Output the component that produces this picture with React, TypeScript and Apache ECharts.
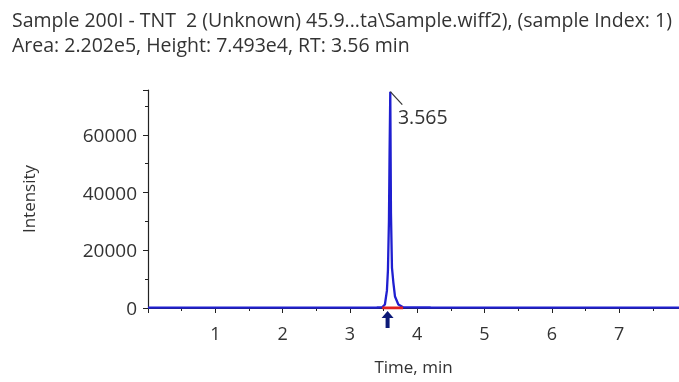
import React, { useEffect, useRef } from "react";
import * as echarts from "echarts";

const titleLines = [
  "Sample 200I - TNT  2 (Unknown) 45.9...ta\\Sample.wiff2), (sample Index: 1)",
  "Area: 2.202e5, Height: 7.493e4, RT: 3.56 min",
];
const timeMin = [0.0, 0.5, 1.0, 1.5, 2.0, 2.5, 3.0, 3.4, 3.48, 3.52, 3.55, 3.565, 3.58, 3.59, 3.60, 3.61, 3.625, 3.645, 3.67, 3.72, 3.79, 4.2, 5.0, 6.0, 7.0, 7.9];
const intensity = [150, 140, 160, 150, 140, 150, 160, 180, 250, 1200, 6000, 13000, 30000, 55000, 74930, 33000, 14000, 9000, 4000, 1200, 250, 170, 150, 140, 150, 140];
const baselineTimes = [3.48, 3.79];
const peakRT = 3.56;
const peakLabel = "3.565";
const peakApex = [3.60, 74930];
const xTicks = [1, 2, 3, 4, 5, 6, 7];
const yTicks = [0, 20000, 40000, 60000];

export default function App() {
  const ref = useRef<HTMLDivElement>(null);
  useEffect(() => {
    const chart = echarts.init(ref.current!, null, { renderer: "svg" });
    const font = "Open Sans";
    const txt = "#333";
    chart.setOption({
      animation: false,
      textStyle: { fontFamily: font },
      title: {
        text: titleLines.join("\n"),
        left: 7,
        top: 2,
        textStyle: { fontFamily: font, fontSize: 19.5, fontWeight: "normal", color: txt, lineHeight: 25 },
      },
      grid: { left: 148, right: 0, top: 90, bottom: 74, containLabel: false },
      xAxis: {
        type: "value",
        min: 0,
        max: 7.89,
        interval: 1,
        name: "Time, min",
        nameLocation: "middle",
        nameGap: 50,
        nameTextStyle: { fontFamily: font, fontSize: 17, color: txt },
        axisLine: { show: true, lineStyle: { color: "#222", width: 1 } },
        axisTick: { show: true, length: 5, lineStyle: { color: "#222" } },
        minorTick: { show: true, splitNumber: 2, length: 3, lineStyle: { color: "#222" } },
        splitLine: { show: false },
        axisLabel: {
          fontFamily: font,
          fontSize: 18,
          color: txt,
          margin: 16,
          showMaxLabel: false,
          formatter: (v: number) => (xTicks.includes(v) ? String(v) : ""),
        },
      },
      yAxis: {
        type: "value",
        min: 0,
        max: 75500,
        interval: 20000,
        name: "Intensity",
        nameLocation: "middle",
        nameGap: 111,
        nameTextStyle: { fontFamily: font, fontSize: 17, color: txt },
        axisLine: { show: true, lineStyle: { color: "#222", width: 1.2 } },
        axisTick: { show: true, length: 5, lineStyle: { color: "#222" } },
        minorTick: { show: true, splitNumber: 2, length: 3, lineStyle: { color: "#222" } },
        splitLine: { show: false },
        axisLabel: {
          fontFamily: font,
          fontSize: 19,
          color: txt,
          margin: 11,
          showMaxLabel: false,
          formatter: (v: number) => (yTicks.includes(v) ? String(v) : ""),
        },
      },
      series: [
        {
          type: "line",
          data: timeMin.map((t, i) => [t, intensity[i]]),
          showSymbol: false,
          lineStyle: { color: "#1f1fd0", width: 2.3 },
          z: 3,
          markPoint: {
            silent: true,
            data: [
              {
                coord: [peakRT, 0],
                symbol: "path://M6,0 L12,7 L8,7 L8,17 L4,17 L4,7 L0,7 Z",
                symbolSize: [12, 17],
                symbolOffset: [0, 11.5],
                itemStyle: { color: "#0c1a78" },
                label: { show: false },
              },
              {
                coord: peakApex,
                symbol: "path://M0,0 L12,13",
                symbolSize: [12, 13],
                symbolOffset: [6, 6.5],
                itemStyle: { color: "none", borderColor: "#333", borderWidth: 1.3 },
                label: {
                  show: true,
                  formatter: peakLabel,
                  position: [10, 17],
                  fontFamily: font,
                  fontSize: 19.5,
                  color: txt,
                },
              },
            ],
          },
        },
        {
          type: "line",
          data: baselineTimes.map((t) => [t, 0]),
          showSymbol: false,
          lineStyle: { color: "#e02020", width: 3 },
          z: 4,
        },
      ],
    });
    return () => chart.dispose();
  }, []);
  return <div ref={ref} style={{ position: "fixed", left: 0, top: 0, width: 679, height: 382 }} />;
}
